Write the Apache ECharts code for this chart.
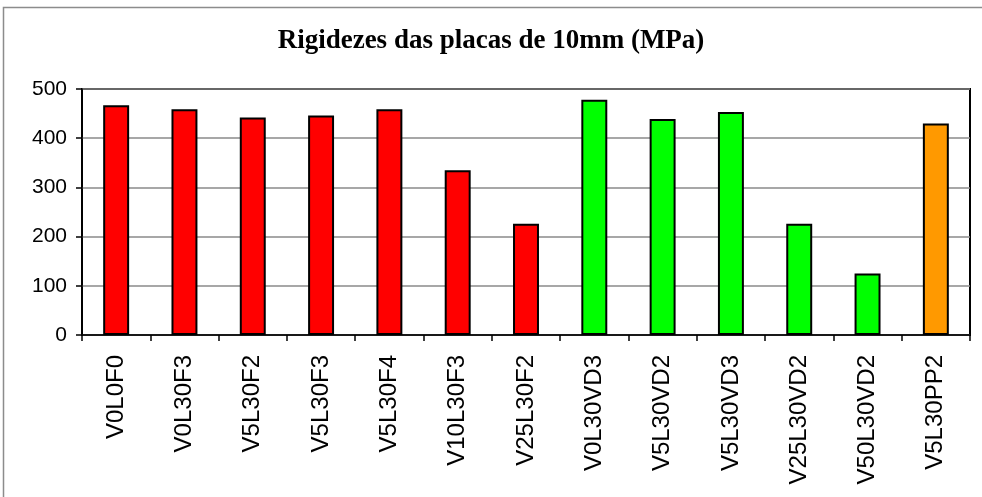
<!DOCTYPE html>
<html>
<head>
<meta charset="utf-8">
<script src="https://cdn.jsdelivr.net/npm/echarts@6/dist/echarts.min.js"></script>
<style>html,body{margin:0;padding:0;background:#fff;}#c{width:982px;height:497px;}</style>
</head>
<body>
<div id="c"></div>
<script>
const categories = ['V0L0F0','V0L30F3','V5L30F2','V5L30F3','V5L30F4','V10L30F3','V25L30F2','V0L30VD3','V5L30VD2','V5L30VD3','V25L30VD2','V50L30VD2','V5L30PP2'];
const values = [467, 459, 442, 446, 459, 335, 226, 478, 439, 453, 226, 125, 430];
const groups = ['F','F','F','F','F','F','F','VD','VD','VD','VD','VD','PP'];
const yTicks = [0, 100, 200, 300, 400, 500];

const groupColor = {F: '#ff0000', VD: '#00ff00', PP: '#ff9900'};
const chart = echarts.init(document.getElementById('c'), null, {renderer: 'canvas'});
chart.setOption({
  animation: false,
  backgroundColor: '#fff',
  title: {
    text: 'Rigidezes das placas de 10mm (MPa)',
    left: 'center', top: 23,
    textStyle: {fontFamily: 'Liberation Serif', fontWeight: 'bold', fontSize: 27, color: '#000'}
  },
  graphic: [{
    type: 'rect', shape: {x: 3.5, y: 7.5, width: 1000, height: 1000},
    style: {fill: 'none', stroke: '#8c8c8c', lineWidth: 1.5}, silent: true
  }],
  grid: {left: 82, right: 12, top: 89, bottom: 162, show: true, borderColor: '#000', borderWidth: 2, backgroundColor: 'transparent'},
  xAxis: {
    type: 'category', data: categories,
    axisLine: {lineStyle: {color: '#000', width: 1.5}},
    axisTick: {show: true, length: 6, inside: false, lineStyle: {color: '#000', width: 1.5}},
    axisLabel: {rotate: 90, margin: 20, fontFamily: 'Liberation Sans', fontSize: 24, color: '#000', interval: 0}
  },
  yAxis: {
    type: 'value', min: yTicks[0], max: yTicks[yTicks.length - 1], interval: 100,
    axisLine: {show: true, lineStyle: {color: '#000', width: 1.5}},
    axisTick: {show: true, length: 6, lineStyle: {color: '#000', width: 1.5}},
    axisLabel: {fontFamily: 'Liberation Sans', fontSize: 21, color: '#000', margin: 15},
    splitLine: {show: true, lineStyle: {color: '#8a8a8a', width: 1.5}}
  },
  series: [{
    type: 'bar',
    barWidth: '38%',
    data: values.map((v, i) => ({value: v, itemStyle: {color: groupColor[groups[i]]}})),
    itemStyle: {borderColor: '#000', borderWidth: 2}
  }]
});
</script>
</body>
</html>
